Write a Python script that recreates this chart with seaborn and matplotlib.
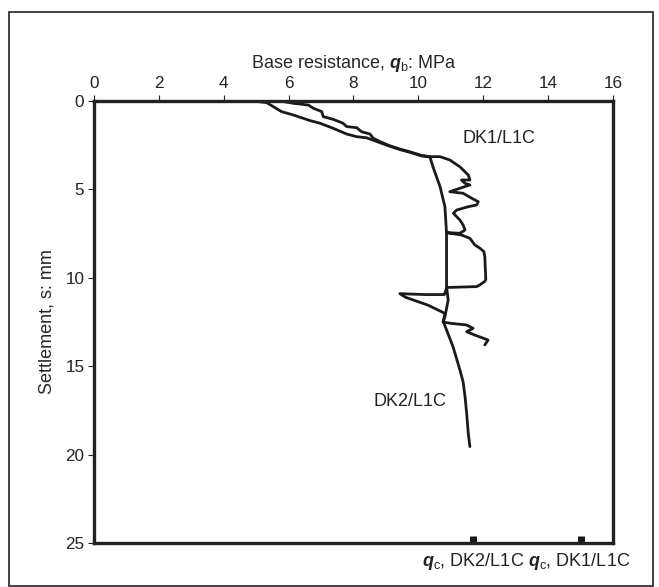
import matplotlib
matplotlib.use("Agg")
import matplotlib.pyplot as plt
import seaborn as sns
import numpy as np
import pandas as pd
from matplotlib.patches import Rectangle

# Resistencia de base vs asentamiento (DK1 / DK2)

dk1_qb = [5.73, 6.14, 6.61, 6.76, 7.02, 7.07, 7.38, 7.68, 7.79, 8.10, 8.25, 8.51, 8.61, 8.82,
          9.10, 9.45, 9.75, 10.10, 10.36, 10.67, 10.97, 11.28, 11.54, 11.59, 11.33, 11.44,
          11.59, 11.28, 10.97, 11.38, 11.64, 11.85, 11.80, 11.54, 11.18, 11.08, 11.28, 11.38,
          11.44, 11.28, 10.87, 11.33, 11.59, 11.74, 11.90, 12.02, 12.05, 12.08, 12.05, 11.90,
          11.80, 10.88, 10.80, 10.20, 9.43, 9.60, 10.30, 10.75, 10.82, 10.76, 10.97, 11.49,
          11.69, 11.49, 11.74, 12.15, 12.05]
dk1_s = [0.00, 0.13, 0.23, 0.41, 0.60, 0.89, 1.04, 1.26, 1.45, 1.51, 1.74, 1.87, 2.11, 2.30,
         2.52, 2.73, 2.88, 3.08, 3.15, 3.15, 3.34, 3.72, 4.19, 4.47, 4.47, 4.66,
         4.75, 4.94, 5.13, 5.22, 5.50, 5.70, 5.88, 5.98, 6.17, 6.35, 6.73, 7.01,
         7.30, 7.48, 7.45, 7.58, 7.77, 8.14, 8.33, 8.52, 8.80, 10.10, 10.20, 10.40,
         10.50, 10.55, 10.95, 10.95, 10.90, 11.10, 11.55, 11.95, 12.05, 12.50, 12.57, 12.67,
         12.86, 13.05, 13.24, 13.52, 13.80]

dk2_qb = [4.87, 5.32, 5.53, 5.78, 6.14, 6.66, 6.97, 7.38, 7.79, 8.10, 8.40, 8.82, 9.10,
          9.45, 9.75, 10.10, 10.36, 10.45, 10.67, 10.82, 10.87, 10.87, 10.92, 10.82, 10.77,
          11.07, 11.28, 11.38, 11.44, 11.49, 11.54, 11.59]
dk2_s = [0.00, 0.09, 0.32, 0.60, 0.79, 1.11, 1.26, 1.55, 1.87, 2.02, 2.08, 2.36, 2.55,
         2.76, 2.91, 3.11, 3.17, 3.72, 4.85, 5.98, 7.48, 10.50, 11.26, 12.20, 12.48,
         13.90, 15.20, 15.88, 16.72, 17.66, 18.80, 19.55]

qc_valores = [11.7, 15.0]
xticks = [0, 2, 4, 6, 8, 10, 12, 14, 16]
yticks = [0, 5, 10, 15, 20, 25]

sns.set_style("white")
plt.rcParams["font.family"] = ["Liberation Sans", "DejaVu Sans"]
plt.rcParams["mathtext.fontset"] = "custom"
plt.rcParams["mathtext.rm"] = "Liberation Sans"
plt.rcParams["mathtext.it"] = "Liberation Sans:italic"
plt.rcParams["mathtext.bf"] = "Liberation Sans:bold"
plt.rcParams["mathtext.bfit"] = "Liberation Sans:bold:italic"

df = pd.concat([
    pd.DataFrame({"qb": dk1_qb, "s": dk1_s, "pilote": "DK1/L1C"}),
    pd.DataFrame({"qb": dk2_qb, "s": dk2_s, "pilote": "DK2/L1C"}),
])

fig = plt.figure(figsize=(6.59, 5.87), dpi=100)
ax = fig.add_axes([0.1426, 0.075, 0.7875, 0.753])

sns.lineplot(data=df, x="qb", y="s", hue="pilote", palette=["#1a1a1a", "#1a1a1a"],
             sort=False, estimator=None, lw=2.0, legend=False, ax=ax)

ax.vlines(qc_valores, 24.6, 25, colors="#1a1a1a", lw=5)

ax.set_xlim(0, 16)
ax.set_ylim(25, 0)
ax.set_xticks(xticks)
ax.set_yticks(yticks)
ax.xaxis.tick_top()
ax.xaxis.set_label_position("top")
ax.tick_params(axis="both", direction="out", length=4, width=0.8, labelsize=12.3, colors="#222222",
               pad=3)
ax.tick_params(axis="x", top=True, bottom=False)
ax.tick_params(axis="y", left=True)
for sp in ax.spines.values():
    sp.set_linewidth(2.4)
    sp.set_color("#222222")

ax.set_xlabel(r"Base resistance, $\boldsymbol{q}_{\mathrm{b}}$: MPa", fontsize=13, labelpad=6)
ax.set_ylabel("Settlement, s: mm", fontsize=13, labelpad=7)

ax.text(12.5, 2.1, "DK1/L1C", fontsize=13, ha="center", va="center", color="#222222")
ax.text(9.75, 17.0, "DK2/L1C", fontsize=13, ha="center", va="center", color="#222222")

fig.text(526 / 659, 1 - 561 / 587,
         r"$\boldsymbol{q}_{\mathrm{c}}$, DK2/L1C $\boldsymbol{q}_{\mathrm{c}}$, DK1/L1C",
         fontsize=13, ha="center", va="center", color="#222222")

fig.patches.append(Rectangle((9 / 659, 1.5 / 587), 644 / 659, 574 / 587, transform=fig.transFigure,
                             fill=False, lw=1.2, ec="#222222"))

fig.savefig("out.png", dpi=100)
